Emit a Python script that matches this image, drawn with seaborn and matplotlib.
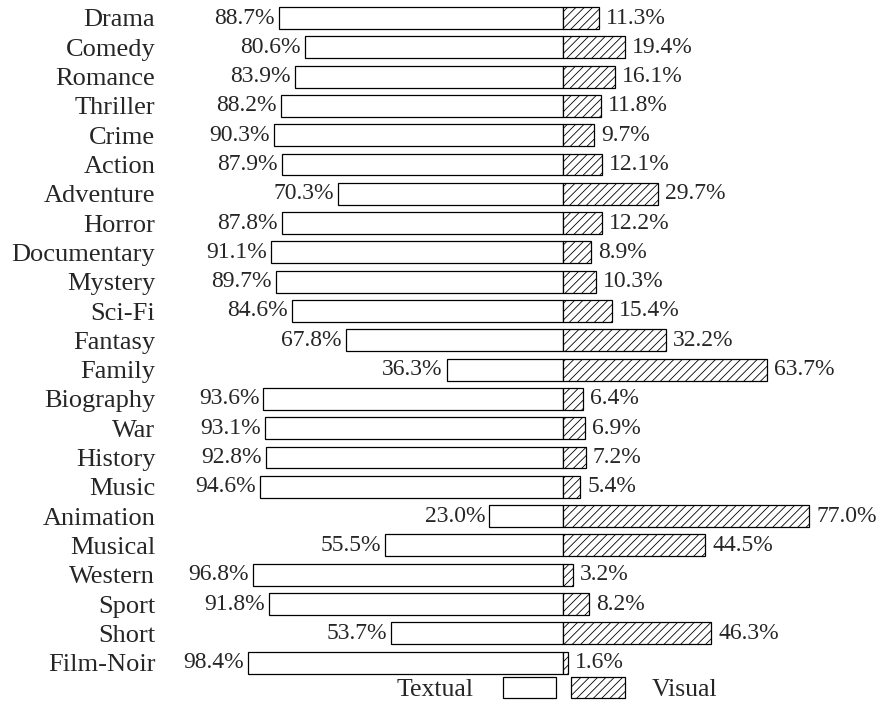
import numpy as np
import matplotlib
matplotlib.use('Agg')
import matplotlib.pyplot as plt
from matplotlib.patches import Patch
import seaborn as sns

genres = ['Drama', 'Comedy', 'Romance', 'Thriller', 'Crime', 'Action', 'Adventure',
          'Horror', 'Documentary', 'Mystery', 'Sci-Fi', 'Fantasy', 'Family',
          'Biography', 'War', 'History', 'Music', 'Animation', 'Musical',
          'Western', 'Sport', 'Short', 'Film-Noir']
textual = [88.7, 80.6, 83.9, 88.2, 90.3, 87.9, 70.3, 87.8, 91.1, 89.7, 84.6, 67.8,
           36.3, 93.6, 93.1, 92.8, 94.6, 23.0, 55.5, 96.8, 91.8, 53.7, 98.4]
visual = [11.3, 19.4, 16.1, 11.8, 9.7, 12.1, 29.7, 12.2, 8.9, 10.3, 15.4, 32.2,
          63.7, 6.4, 6.9, 7.2, 5.4, 77.0, 44.5, 3.2, 8.2, 46.3, 1.6]

sns.set_style('white')
plt.rcParams['font.family'] = ['Liberation Serif', 'DejaVu Serif']
plt.rcParams['hatch.linewidth'] = 0.6

fig = plt.figure(figsize=(8.81, 7.02), dpi=100)
ax = fig.add_axes([165 / 881, 22 / 702, (881 - 165) / 881, 680 / 702])

neg = [-v for v in textual]
sns.barplot(x=neg, y=genres, orient='h', color='white', saturation=1,
            edgecolor='black', linewidth=0.9, width=0.75, ax=ax)
sns.barplot(x=visual, y=genres, orient='h', color='white', saturation=1,
            edgecolor='black', linewidth=0.9, width=0.75, hatch='////', ax=ax)

for i, (t, v) in enumerate(zip(textual, visual)):
    ax.annotate(f'{t:.1f}%', (-t, i), xytext=(-3, 0), textcoords='offset points',
                ha='right', va='center', fontsize=17)
    ax.annotate(f'{v:.1f}%', (v, i), xytext=(5, 0), textcoords='offset points',
                ha='left', va='center', fontsize=17)

ax.set_xlim(-(563 - 165) / 3.2, (881 - 563) / 3.2)
ax.set_ylim((680 - 18) / 29.3, -18 / 29.3)
ax.set_xticks([])
ax.set_xlabel('')
ax.set_ylabel('')
ax.tick_params(axis='y', length=0, pad=7, labelsize=19)
for s in ax.spines.values():
    s.set_visible(False)

ly = 1 - 689 / 702
fig.legend(handles=[Patch(facecolor='white', edgecolor='black', linewidth=0.9)],
           labels=['Textual'], markerfirst=False, loc='center right',
           bbox_to_anchor=(556 / 881, ly), frameon=False, borderpad=0,
           borderaxespad=0, handlelength=2.05, handleheight=0.9,
           handletextpad=1.15, fontsize=18.5)
fig.legend(handles=[Patch(facecolor='white', edgecolor='black', linewidth=0.9, hatch='////')],
           labels=['Visual'], loc='center left',
           bbox_to_anchor=(571 / 881, ly), frameon=False, borderpad=0,
           borderaxespad=0, handlelength=2.1, handleheight=0.9,
           handletextpad=1.05, fontsize=18.5)

fig.savefig('out.png', dpi=100)
